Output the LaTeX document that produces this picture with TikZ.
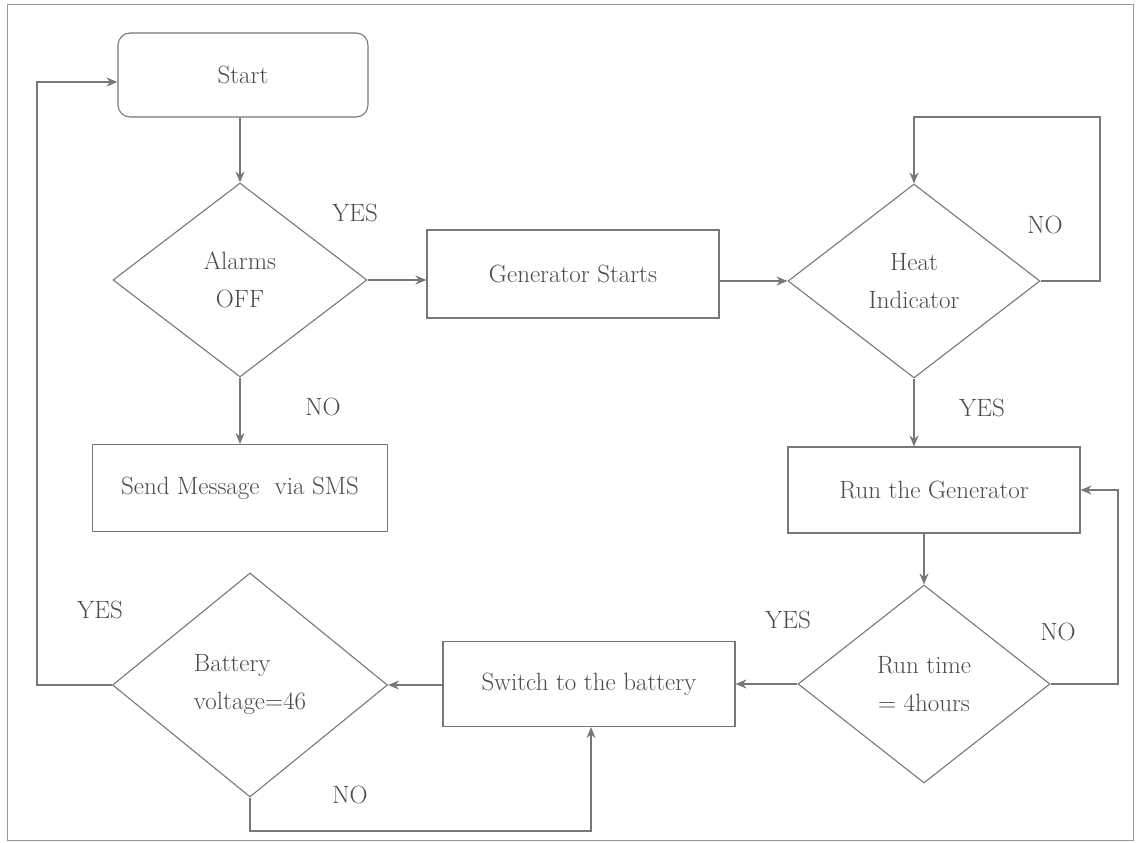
\documentclass[tikz,border=0pt]{standalone}
\usetikzlibrary{shapes.geometric,arrows.meta}
\definecolor{linec}{HTML}{777777}
\definecolor{textc}{HTML}{4A4A4A}
\definecolor{framec}{HTML}{999999}
\tikzset{
  base/.style={draw=linec, line width=1.1pt, text=textc, font=\fontsize{25}{38}\selectfont, inner sep=0pt, align=center},
  rbox/.style={base, rectangle, rounded corners=12pt},
  pbox/.style={base, rectangle},
  dia/.style={base, diamond},
  arr/.style={draw=linec, line width=1.1pt, -{Stealth[length=11pt,width=9pt]}},
  lbl/.style={text=textc, font=\fontsize{25}{30}\selectfont, inner sep=0pt},
}
\begin{document}
\begin{tikzpicture}[x=1pt,y=-1pt]
\useasboundingbox (0,0) rectangle (1138,843);
\draw[framec, line width=1pt] (7,5) rectangle (1133,840);

\node[rbox, minimum width=250pt, minimum height=84pt] (start) at (243,75) {Start};
\node[dia, minimum width=254pt, minimum height=194pt] (alarm) at (240,280) {Alarms\\OFF};
\node[pbox, minimum width=292pt, minimum height=88pt] (gen) at (573,274) {Generator Starts};
\node[dia, minimum width=252pt, minimum height=194pt] (heat) at (914,281) {Heat\\Indicator};
\node[pbox, minimum width=292pt, minimum height=86pt] (run) at (934,490) {Run the Generator};
\node[dia, minimum width=252pt, minimum height=198pt] (rt) at (924,684) {Run time\\= 4hours};
\node[pbox, minimum width=292pt, minimum height=85pt] (sw) at (589,684) {Switch to the battery};
\node[dia, minimum width=275pt, minimum height=224pt, align=left] (bat) at (250,685) {Battery\\voltage=46};
\node[pbox, minimum width=295pt, minimum height=87pt] (sms) at (240,488) {Send Message~ via SMS};

\coordinate (hloop) at (1100,117);
\coordinate (rloop) at (1118,684);
\coordinate (yloop) at (37,685);
\coordinate (nb) at (591,831);

\draw[arr] (start.south -| alarm.north) -- (alarm.north);
\draw[arr] (alarm.east) -- (gen.west |- alarm.east);
\draw[arr] (gen.east |- heat.west) -- (heat.west);
\draw[arr] (heat.east) -| (hloop) -| (heat.north);
\draw[arr] (heat.south) -- (heat.south |- run.north);
\draw[arr] (rt.north |- run.south) -- (rt.north);
\draw[arr] (rt.east) -- (rloop) |- (run.east);
\draw[arr] (rt.west) -- (rt.west -| sw.east);
\draw[arr] (sw.west |- bat.east) -- (bat.east);
\draw[arr] (bat.west) -- (yloop) |- ([yshift=-7pt]start.west);
\draw[arr] (bat.south) |- (nb) -- (nb |- sw.south);
\draw[arr] (alarm.south) -- (alarm.south |- sms.north);

\node[lbl] (l1) at (355,213) {YES};
\node[lbl] (l2) at (323,407) {NO};
\node[lbl] (l3) at (1045,225) {NO};
\node[lbl] (l4) at (982,408) {YES};
\node[lbl] (l5) at (1058,632) {NO};
\node[lbl] (l6) at (788,620) {YES};
\node[lbl] (l7) at (100,610) {YES};
\node[lbl] (l8) at (350,795) {NO};
\end{tikzpicture}
\end{document}
